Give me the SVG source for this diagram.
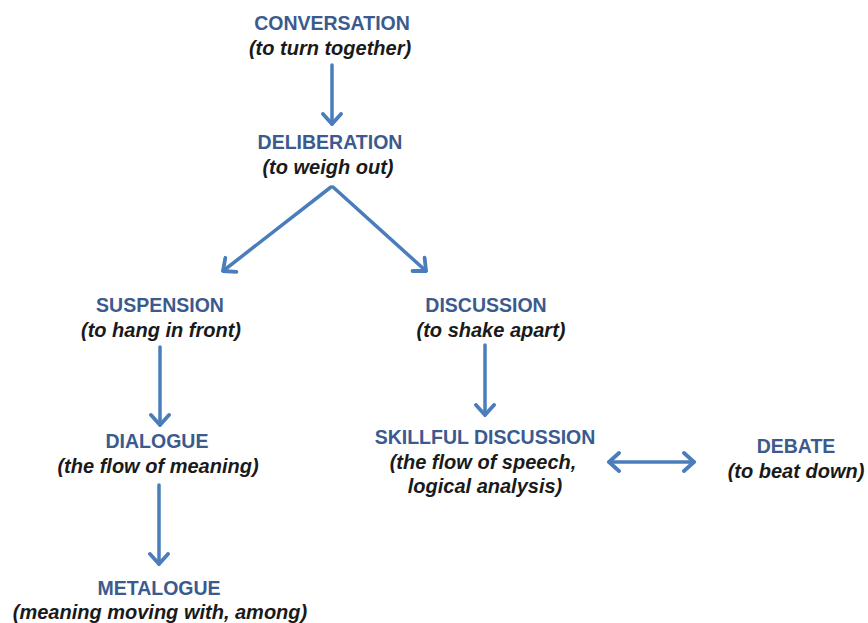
<svg xmlns="http://www.w3.org/2000/svg" width="868" height="623" viewBox="0 0 868 623">
  <defs>
    <style>
      .t { font-family: "Liberation Sans", Arial, sans-serif; font-weight: bold; font-size: 19.5px; fill: #3b5a8e; text-anchor: middle; }
      .s { font-family: "Liberation Sans", Arial, sans-serif; font-weight: bold; font-style: italic; font-size: 20px; fill: #1a1a1a; text-anchor: middle; }
      .c { fill: none; stroke: #4a7dbb; stroke-width: 3.5; stroke-linecap: round; stroke-linejoin: round; }
    </style>
    <marker id="head" viewBox="0 0 14 22" refX="12" refY="11" markerWidth="14" markerHeight="22" markerUnits="userSpaceOnUse" orient="auto-start-reverse">
      <path d="M2,2 L12,11 L2,20" fill="none" stroke="#4a7dbb" stroke-width="3.8" stroke-linecap="round" stroke-linejoin="round"/>
    </marker>
  </defs>
  <rect width="868" height="623" fill="#ffffff"/>

  <g id="connectors">
    <line class="c" x1="332" y1="65" x2="332" y2="124" marker-end="url(#head)"/>
    <line class="c" x1="331" y1="187" x2="223" y2="271" marker-end="url(#head)"/>
    <line class="c" x1="333" y1="187" x2="426" y2="271" marker-end="url(#head)"/>
    <line class="c" x1="160" y1="347" x2="160" y2="425" marker-end="url(#head)"/>
    <line class="c" x1="485" y1="345" x2="485" y2="415" marker-end="url(#head)"/>
    <line class="c" x1="159" y1="485" x2="159" y2="564" marker-end="url(#head)"/>
    <line class="c" x1="609" y1="462" x2="694" y2="462" marker-start="url(#head)" marker-end="url(#head)"/>
  </g>

  <g id="conversation">
    <text class="t" x="332" y="30">CONVERSATION</text>
    <text class="s" x="330" y="55">(to turn together)</text>
  </g>
  <g id="deliberation">
    <text class="t" x="330" y="149">DELIBERATION</text>
    <text class="s" x="328" y="174">(to weigh out)</text>
  </g>
  <g id="suspension">
    <text class="t" x="160" y="312">SUSPENSION</text>
    <text class="s" x="161" y="337">(to hang in front)</text>
  </g>
  <g id="discussion">
    <text class="t" x="486" y="312">DISCUSSION</text>
    <text class="s" x="491" y="337">(to shake apart)</text>
  </g>
  <g id="dialogue">
    <text class="t" x="157" y="448">DIALOGUE</text>
    <text class="s" x="158" y="473">(the flow of meaning)</text>
  </g>
  <g id="skillful-discussion">
    <text class="t" x="485" y="444">SKILLFUL DISCUSSION</text>
    <text class="s" x="483" y="469">(the flow of speech,</text>
    <text class="s" x="485" y="493">logical analysis)</text>
  </g>
  <g id="debate">
    <text class="t" x="796" y="453">DEBATE</text>
    <text class="s" x="796" y="478">(to beat down)</text>
  </g>
  <g id="metalogue">
    <text class="t" x="159" y="595">METALOGUE</text>
    <text class="s" x="160" y="619">(meaning moving with, among)</text>
  </g>
</svg>
